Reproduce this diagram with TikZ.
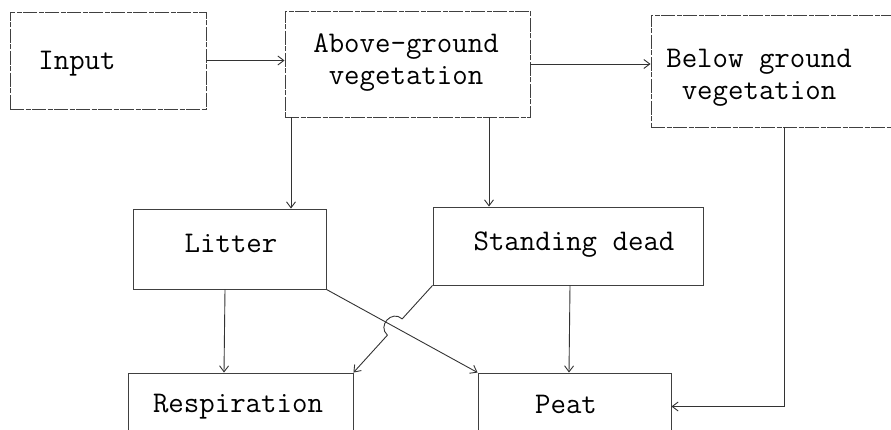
\documentclass[tikz,border=0pt]{standalone}
\usetikzlibrary{arrows.meta,calc,intersections}
\begin{document}
\begin{tikzpicture}[x=1pt,y=-1pt,
  box/.style={draw=black!75, line width=0.9pt, inner sep=0pt, anchor=center},
  topbox/.style={box, dash pattern=on 14pt off 1.5pt on 5pt off 1.5pt},
  txt/.style={font=\fontsize{30}{32}\selectfont\ttfamily, inner sep=0pt, text=black, align=center},
  arr/.style={draw=black!80, line width=0.9pt, -{Straight Barb[length=6pt,width=9pt]}},
  conn/.style={draw=black!80, line width=0.9pt}]
\useasboundingbox (0,0) rectangle (891,430);
% boxes
\node[topbox, minimum width=196pt, minimum height=97pt] (input) at (108,60.5) {};
\node[topbox, minimum width=245pt, minimum height=106pt] (above) at (407.5,64) {};
\node[topbox, minimum width=242pt, minimum height=112pt] (below) at (772,71) {};
\node[box, minimum width=193pt, minimum height=80pt] (litter) at (229.5,249) {};
\node[box, minimum width=270pt, minimum height=78pt] (sdead) at (568,246) {};
\node[box, minimum width=225pt, minimum height=67pt] (resp) at (240.5,406.5) {};
\node[box, minimum width=193pt, minimum height=67pt] (peat) at (574.5,406.5) {};
% texts
\node[txt] (tinput) at (77,64) {Input};
\node[txt] (tabove) at (406,63) {Above-ground\\vegetation};
\node[txt] (tbelow) at (759,78) {Below ground\\vegetation};
\node[txt] (tlitter) at (231,243) {Litter};
\node[txt] (tsdead) at (574,245) {Standing dead};
\node[txt] (tresp) at (238,407) {Respiration};
\node[txt] (tpeat) at (566,404) {Peat};
% straight connectors
\draw[arr] (input.east) -- (input.east -| above.west);
\draw[arr] (above.east) -- (above.east -| below.west);
\draw[arr] (above.south -| 291,0) -- (litter.north -| 291,0);
\draw[arr] (above.south -| 489,0) -- (sdead.north -| 489,0);
\draw[arr] (litter.south -| 225,0) -- (resp.north -| 224,0);
\draw[arr] (sdead.south -| 570,0) -- (peat.north -| 569,0);
\draw[arr] (below.south -| 784,0) |- (peat.east);
% crossing connectors with a hop
\path[name path=A] (litter.south east) -- (peat.north west);
\path[name path=B] (sdead.south west) -- (resp.north east);
\path[name intersections={of=A and B, by=X}];
\coordinate (P1) at ($(X)!11pt!(sdead.south west)$);
\coordinate (P2) at ($(X)!11pt!(resp.north east)$);
\coordinate (C1) at ($(P1)!14pt!-90:(P2)$);
\coordinate (C2) at ($(P2)!14pt!90:(P1)$);
\draw[arr] (litter.south east) -- (peat.north west);
\draw[arr] (sdead.south west) -- (P1) .. controls (C1) and (C2) .. (P2) -- (resp.north east);
\end{tikzpicture}
\end{document}
